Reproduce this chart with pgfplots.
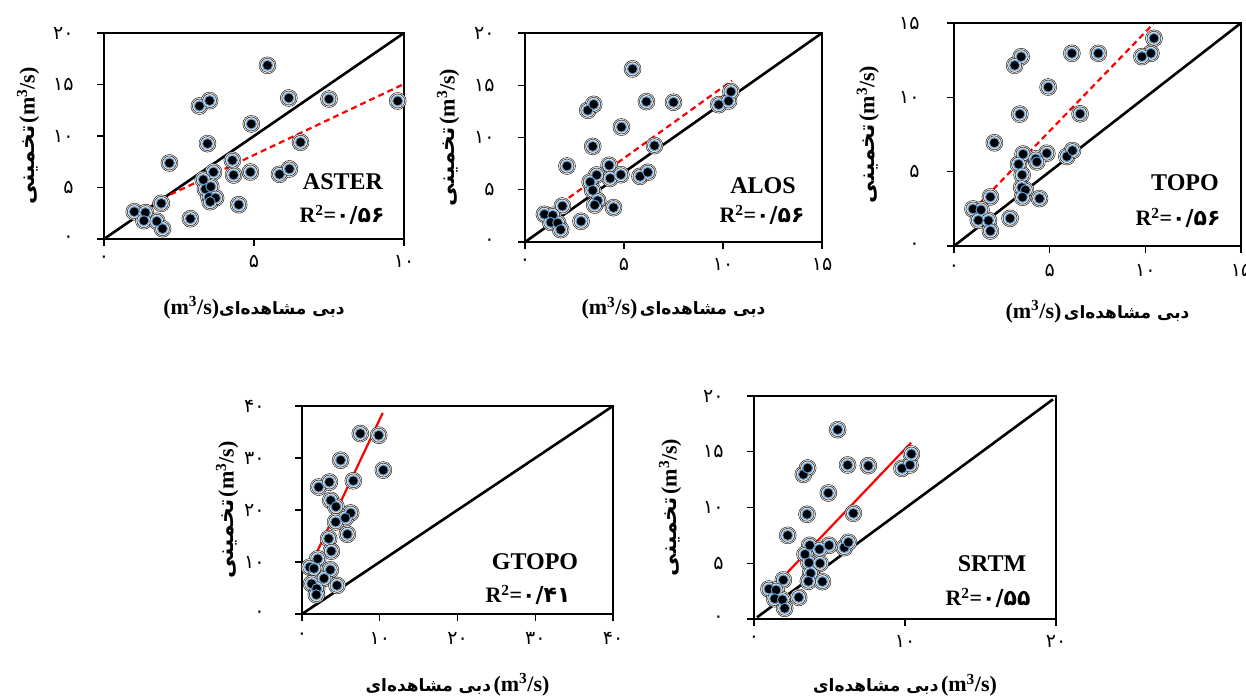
\documentclass[border=0pt]{standalone}
\usepackage{fontspec}
\usepackage{pgfplots}
\usepackage{pgfplotstable}
\pgfplotsset{compat=1.18}
\setmainfont{Liberation Serif}
\newfontfamily\fa[Script=Arabic]{DejaVu Sans}
\TeXXeTstate=1
\definecolor{ringblue}{RGB}{91,155,213}
\newcommand{\fd}[1]{{\fa\fontsize{19}{19}\selectfont #1}}
\newcommand{\munit}{{\fontsize{22}{22}\selectfont\textbf{(m\textsuperscript{3}/s)}}}
\newcommand{\dobi}{{\fa\fontsize{17}{17}\selectfont\bfseries\beginR دبی مشاهده‌ای\endR}}
\newcommand{\takh}{{\fa\fontsize{22}{22}\selectfont\bfseries\beginR تخمینی\endR}}
\newcommand{\rsq}[1]{\textbf{R\textsuperscript{2}=}{\fa\bfseries #1}}

\pgfplotstableread{
x y
5.45 16.86
6.16 13.69
7.50 13.59
9.79 13.40
3.18 12.91
3.52 13.43
4.91 11.17
3.45 9.26
6.55 9.39
2.18 7.38
4.28 7.64
3.65 6.50
4.32 6.21
4.88 6.50
5.85 6.28
6.18 6.80
3.31 5.76
3.38 4.85
3.56 5.08
3.50 4.05
3.72 3.98
3.54 3.62
4.49 3.33
1.91 3.46
1.01 2.65
1.38 2.56
1.33 1.78
1.76 1.72
1.95 1.00
2.88 1.97
}\aster
\pgfplotstableread{
x y
5.43 16.56
6.13 13.43
7.50 13.37
9.78 13.14
10.28 13.49
10.40 14.39
3.17 12.60
3.47 13.17
4.87 11.00
3.42 9.15
6.54 9.22
2.12 7.27
4.25 7.34
3.62 6.41
4.30 6.09
4.84 6.44
5.81 6.28
6.20 6.67
3.29 5.74
3.42 4.94
3.67 3.96
3.52 3.54
4.47 3.29
1.89 3.44
0.98 2.65
1.40 2.55
1.30 1.88
1.65 1.82
1.80 1.18
2.83 1.98
}\alos
\pgfplotstableread{
x y
10.45 13.97
10.29 12.96
9.82 12.74
6.16 12.96
7.54 12.96
3.51 12.73
3.17 12.15
4.92 10.69
3.44 8.87
6.59 8.89
2.11 6.94
3.61 6.18
4.85 6.24
4.27 5.86
4.33 5.66
5.90 6.02
6.19 6.42
3.37 5.50
3.56 4.78
3.54 3.93
3.73 3.77
3.58 3.28
4.47 3.19
1.90 3.30
0.99 2.49
1.41 2.43
1.27 1.73
1.80 1.71
1.90 1.01
2.93 1.86
}\topo
\pgfplotstableread{
x y
7.50 34.70
9.86 34.38
10.46 27.67
4.97 29.58
2.14 24.41
3.52 25.37
6.60 25.62
3.69 21.85
4.37 20.64
6.26 19.42
5.57 18.47
4.33 17.70
5.83 15.34
3.43 14.50
3.77 12.08
2.02 10.61
0.99 9.01
1.54 8.75
3.64 8.50
2.83 6.84
1.24 5.81
1.89 4.86
1.84 3.71
4.50 5.50
}\gtopo
\pgfplotstableread{
x y
5.54 16.98
6.20 13.81
7.57 13.75
9.80 13.51
10.33 13.81
10.42 14.80
3.27 12.97
3.55 13.54
4.92 11.30
3.51 9.39
6.58 9.48
2.23 7.50
3.69 6.61
4.97 6.61
4.33 6.25
5.98 6.40
6.25 6.88
3.38 5.80
3.64 5.05
4.37 4.99
3.75 4.10
3.60 3.38
4.53 3.35
1.94 3.50
0.99 2.69
1.46 2.60
1.37 1.82
1.88 1.73
2.03 0.96
2.96 1.94
}\srtm

\pgfplotsset{glow/.style 2 args={only marks, mark=*, mark size=#1, mark options={draw=none, fill=black!#2}}}
\newcommand{\halo}[1]{%
\addplot[glow={8.5pt}{6}] table {#1};
\addplot[glow={7pt}{13}] table {#1};
}
\newcommand{\pts}[1]{%
\addplot[only marks, mark=*, mark size=5pt, mark options={fill=black, draw=ringblue, line width=1pt}] table {#1};
}

\pgfplotsset{
  pan/.style={scale only axis, xmin=0, ymin=0,
    axis line style={line width=1.6pt},
    tick align=outside, major tick length=7pt,
    tick style={black, line width=1.4pt},
    xtick pos=lower, ytick pos=left,
    xlabel style={anchor=center},
    ylabel style={anchor=center},
    axis on top,
  },
  diag/.style={black, line width=2.6pt},
  fitd/.style={red, line width=2.2pt, dash pattern=on 6pt off 4pt},
  fits/.style={red, line width=2.2pt},
}

\begin{document}
\begin{tikzpicture}[x=1pt,y=1pt]
\path[use as bounding box] (0,0) rectangle (1246,700);

% ASTER
\begin{axis}[pan, at={(104pt,461pt)}, anchor=south west, width=300pt, height=206pt,
  xmax=10, ymax=20, xtick={0,5,10}, ytick={0,5,10,15,20},
  xticklabels={\fd{۰},\fd{۵},\fd{۱۰}},
  yticklabels={\fd{۰},\fd{۵},\fd{۱۰},\fd{۱۵},\fd{۲۰}},
  xticklabel style={yshift=-6pt}, yticklabel style={xshift=-20pt},
  xlabel={\munit\dobi}, ylabel={\takh{} \munit},
  xlabel style={at={(axis description cs:0.5,-0.335)}},
  ylabel style={at={(axis description cs:-0.253,0.5)}}]
\halo{\aster}
\addplot[diag] coordinates {(0,0) (10,20)};
\addplot[fitd] coordinates {(1.01,2.65) (10,15.05)};
\pts{\aster}
\end{axis}

% ALOS
\begin{axis}[pan, at={(525pt,458pt)}, anchor=south west, width=297pt, height=209pt,
  xmax=15, ymax=20, xtick={0,5,10,15}, ytick={0,5,10,15,20},
  xticklabels={\fd{۰},\fd{۵},\fd{۱۰},\fd{۱۵}},
  yticklabels={\fd{۰},\fd{۵},\fd{۱۰},\fd{۱۵},\fd{۲۰}},
  xticklabel style={yshift=-6pt}, yticklabel style={xshift=-20pt},
  xlabel={\munit{} \dobi}, ylabel={\takh{} \munit},
  xlabel style={at={(axis description cs:0.5,-0.316)}},
  ylabel style={at={(axis description cs:-0.259,0.5)}}]
\halo{\alos}
\addplot[diag] coordinates {(0,0) (15,20)};
\addplot[fitd] coordinates {(0.98,2.55) (10.45,15.44)};
\pts{\alos}
\end{axis}

% TOPO
\begin{axis}[pan, at={(954pt,454pt)}, anchor=south west, width=287pt, height=223pt,
  xmax=15, ymax=15, xtick={0,5,10,15}, ytick={0,5,10,15},
  xticklabels={\fd{۰},\fd{۵},\fd{۱۰},\fd{۱۵}},
  yticklabels={\fd{۰},\fd{۵},\fd{۱۰},\fd{۱۵}},
  xticklabel style={yshift=-8pt}, yticklabel style={xshift=-24pt},
  xlabel={\munit{} \dobi}, ylabel={\takh{} \munit},
  xlabel style={at={(axis description cs:0.5,-0.296)}},
  ylabel style={at={(axis description cs:-0.300,0.5)}}]
\halo{\topo}
\addplot[diag] coordinates {(0,0) (15,15)};
\addplot[fitd] coordinates {(0.96,2.36) (10.43,14.96)};
\pts{\topo}
\end{axis}

% GTOPO
\begin{axis}[pan, at={(302pt,86pt)}, anchor=south west, width=311pt, height=208pt,
  xmax=40, ymax=40, xtick={0,10,20,30,40}, ytick={0,10,20,30,40},
  xticklabels={\fd{۰},\fd{۱۰},\fd{۲۰},\fd{۳۰},\fd{۴۰}},
  yticklabels={\fd{۰},\fd{۱۰},\fd{۲۰},\fd{۳۰},\fd{۴۰}},
  xticklabel style={yshift=-8pt}, yticklabel style={xshift=-27pt},
  xlabel={\dobi{} \munit}, ylabel={\takh{} \munit},
  xlabel style={at={(axis description cs:0.5,-0.341)}},
  ylabel style={at={(axis description cs:-0.241,0.5)}}]
\halo{\gtopo}
\addplot[diag] coordinates {(0,0) (40,40)};
\addplot[fits] coordinates {(0.9,8.69) (10.38,38.66)};
\pts{\gtopo}
\end{axis}

% SRTM
\begin{axis}[pan, at={(754pt,81pt)}, anchor=south west, width=302pt, height=223pt,
  xmax=20, ymax=20, xtick={0,10,20}, ytick={0,5,10,15,20},
  xticklabels={\fd{۰},\fd{۱۰},\fd{۲۰}},
  yticklabels={\fd{۰},\fd{۵},\fd{۱۰},\fd{۱۵},\fd{۲۰}},
  xticklabel style={yshift=-6pt}, yticklabel style={xshift=-20pt},
  xlabel={\dobi{} \munit}, ylabel={\takh{} \munit},
  xlabel style={at={(axis description cs:0.5,-0.296)}},
  ylabel style={at={(axis description cs:-0.278,0.5)}}]
\halo{\srtm}
\addplot[diag] coordinates {(0.2,0.15) (19.8,19.7)};
\addplot[fits] coordinates {(1.02,2.48) (10.40,15.81)};
\pts{\srtm}
\end{axis}

\begin{scope}[font=\fontsize{24}{24}\selectfont\bfseries]
\node at (343,518) {ASTER};
\node at (763,514) {ALOS};
\node at (1185,517) {TOPO};
\node at (535,138) {GTOPO};
\node at (992,136) {SRTM};
\end{scope}
\begin{scope}[font=\fontsize{22}{22}\selectfont]
\node at (342,485) {\rsq{۰/۵۶}};
\node at (762,485) {\rsq{۰/۵۶}};
\node at (1178,482) {\rsq{۰/۵۶}};
\node at (528,105) {\rsq{۰/۴۱}};
\node at (988,102) {\rsq{۰/۵۵}};
\end{scope}
\end{tikzpicture}
\end{document}
